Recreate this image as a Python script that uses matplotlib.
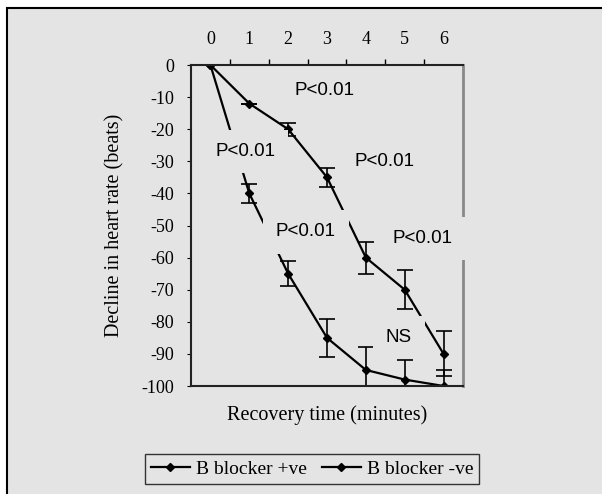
import matplotlib
matplotlib.use("Agg")
from matplotlib import pyplot as plt
from matplotlib.patches import Rectangle
from matplotlib.lines import Line2D

# data
minutes = [0, 1, 2, 3, 4, 5, 6]
blocker_pos = [0, -12, -20, -35, -60, -70, -90]
blocker_pos_err = [0, 0, 2, 3, 5, 6, 7]
blocker_neg = [0, -40, -65, -85, -95, -98, -100]
blocker_neg_err = [0, 3, 4, 6, 7, 6, 5]
y_ticks = [0, -10, -20, -30, -40, -50, -60, -70, -80, -90, -100]
series_labels = ["B blocker +ve", "B blocker -ve"]

# annotations: (x, y, label)
notes = [
    (2.94, -8, "P<0.01"),
    (0.89, -27, "P<0.01"),
    (4.49, -30, "P<0.01"),
    (5.45, -54, "P<0.01"),
    (2.45, -52, "P<0.01"),
    (4.85, -85, "NS"),
]

bg = "#e4e4e4"
serif = "Liberation Serif"
sans = "Liberation Sans"

fig = plt.figure(figsize=(6.02, 4.94), dpi=100, facecolor="white")
frame = Rectangle((7 / 602, -0.1), 1.2, 1.1 - 8 / 494,
                  transform=fig.transFigure, facecolor=bg,
                  edgecolor="black", linewidth=1.5, zorder=-10)
fig.patches.append(frame)

ax = fig.add_axes([191 / 602, 1 - 386 / 494, 272 / 602, 321 / 494])
ax.set_facecolor(bg)

for ys, errs in [(blocker_pos, blocker_pos_err), (blocker_neg, blocker_neg_err)]:
    ax.errorbar(minutes, ys, yerr=errs, color="black", lw=1.6,
                marker="D", ms=4, capsize=6, elinewidth=1.2, capthick=1.2,
                zorder=2)

for x, y, s in notes:
    ax.text(x, y, s, ha="center", va="center", fontsize=13.5, family=sans,
            zorder=5, clip_on=False,
            bbox=dict(boxstyle="square,pad=0.7", facecolor=bg, edgecolor="none"))

ax.set_xlim(-0.5, 6.5)
ax.set_ylim(-100, 0)
ax.xaxis.tick_top()
ax.set_xticks(minutes)
ax.set_xticks([m + 0.5 for m in minutes[:-1]], minor=True)
ax.tick_params(axis="x", which="major", length=0, pad=12, labelsize=13)
ax.tick_params(axis="x", which="minor", length=4, width=1)
ax.set_xticklabels([str(m) for m in minutes], family=serif)
ax.set_yticks(y_ticks)
ax.set_yticklabels([str(v) for v in y_ticks], family=serif)
ax.tick_params(axis="y", length=3, pad=9, labelsize=13)

for side in ["left", "bottom", "top"]:
    ax.spines[side].set_color("#222222")
    ax.spines[side].set_linewidth(1.5)
ax.spines["right"].set_color("#888888")
ax.spines["right"].set_linewidth(2)
ax.spines["right"].set_zorder(1)

ax.set_xlabel("Recovery time (minutes)", family=serif, fontsize=14.5, labelpad=14)
ax.set_ylabel("Decline in heart rate (beats)", family=serif, fontsize=14.5, labelpad=12)

handles = [Line2D([], [], color="black", lw=1.6, marker="D", ms=4) for _ in series_labels]
leg = fig.legend(handles, series_labels, loc="center",
                 bbox_to_anchor=(312 / 602, 1 - 469 / 494), ncol=2,
                 prop={"family": serif, "size": 14}, frameon=True, fancybox=False,
                 edgecolor="#333333", facecolor=bg, framealpha=1,
                 handlelength=2.0, handletextpad=0.3, columnspacing=0.8,
                 borderpad=0.3)
leg.get_frame().set_linewidth(1)

fig.savefig("out.png", dpi=100, facecolor=fig.get_facecolor())
